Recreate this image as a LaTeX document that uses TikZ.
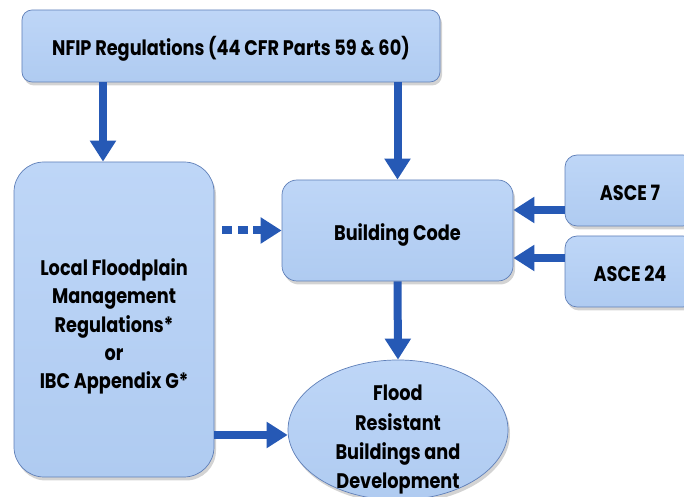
\documentclass[tikz,border=0pt]{standalone}
\usepackage{fontspec}
\setsansfont{Poppins}[FakeStretch=0.84]
\usetikzlibrary{arrows.meta}
\usetikzlibrary{positioning,calc}
\usetikzlibrary{shadows,shapes.geometric}
\definecolor{boxfill}{HTML}{BED6F7}
\definecolor{boxlow}{HTML}{AFCBF1}
\definecolor{boxline}{HTML}{5F7FB8}
\definecolor{flowblue}{HTML}{2659B5}
\begin{document}
\begin{tikzpicture}[
         font=\sffamily\bfseries\fontsize{12}{16}\selectfont,
         block/.style = {draw=boxline, thin, top color=boxfill, bottom color=boxlow,
         align=center, inner sep=0pt,
         drop shadow={opacity=0.35, shadow xshift=0.04cm, shadow yshift=-0.07cm}},
         oneline/.style = {text height=0.5cm, text depth=0.1cm},
         flow/.style = {flowblue, line width=0.16cm,
         -{Triangle[width=0.5cm,length=0.42cm]}},
         dotflow/.style = {flow, dash pattern=on 0.2cm off 0.11cm}
]
         \useasboundingbox (0,0) rectangle (13.68,9.94);

         % top level
         \node[block, oneline, rounded corners=0.2cm, minimum width=8.36cm,
         minimum height=1.44cm] (nfip) at (4.62,9.02)
         {NFIP Regulations (44 CFR Parts 59 \& 60)};

         % local rules
         \node[block, rounded corners=0.6cm, minimum width=4.0cm,
         minimum height=6.3cm] (local) at (2.28,3.55)
         {\raisebox{-0.14cm}[\height][\depth]{\begin{tabular}{@{}c@{}}Local Floodplain\\
         Management\\ Regulations*\\ or\\ IBC Appendix G*\end{tabular}}};

         % code and standards
         \node[block, oneline, rounded corners=0.3cm, minimum width=4.62cm,
         minimum height=2.02cm] (bcode) at (7.95,5.33) {Building Code};
         \node[block, oneline, rounded corners=0.24cm, minimum width=2.6cm,
         minimum height=1.42cm] (asce7) at (12.6,6.13) {ASCE 7};
         \node[block, oneline, rounded corners=0.24cm, minimum width=2.6cm,
         minimum height=1.42cm] (asce24) at (12.6,4.51) {ASCE 24};

         % outcome
         \node[block, ellipse, minimum width=4.4cm, minimum height=2.8cm,
         inner ysep=-0.3cm] (flood) at (7.96,1.34)
         {\raisebox{-0.18cm}[\height][\depth]{\renewcommand\arraystretch{1.04}%
         \begin{tabular}{@{}c@{}}Flood\\ Resistant\\
         Buildings and\\ Development\end{tabular}}};

         \draw[flow] ([xshift=-0.22cm]local.north |- nfip.south)
         -- ([xshift=-0.22cm]local.north);
         \draw[flow] (bcode.north |- nfip.south) -- (bcode.north);
         \draw[flow] ([yshift=-0.39cm]asce7.west)
         -- ([yshift=-0.39cm]asce7.west -| bcode.east);
         \draw[flow] ([yshift=0.27cm]asce24.west)
         -- ([yshift=0.27cm]asce24.west -| bcode.east);
         \draw[dotflow] ([xshift=0.16cm]local.east |- bcode.west) -- (bcode.west);
         \draw[flow] (bcode.south) -- (flood.north);
         \draw[flow] ([yshift=-0.1cm]flood.west -| local.east)
         -- ([yshift=-0.1cm]flood.west);
\end{tikzpicture}
\end{document}
